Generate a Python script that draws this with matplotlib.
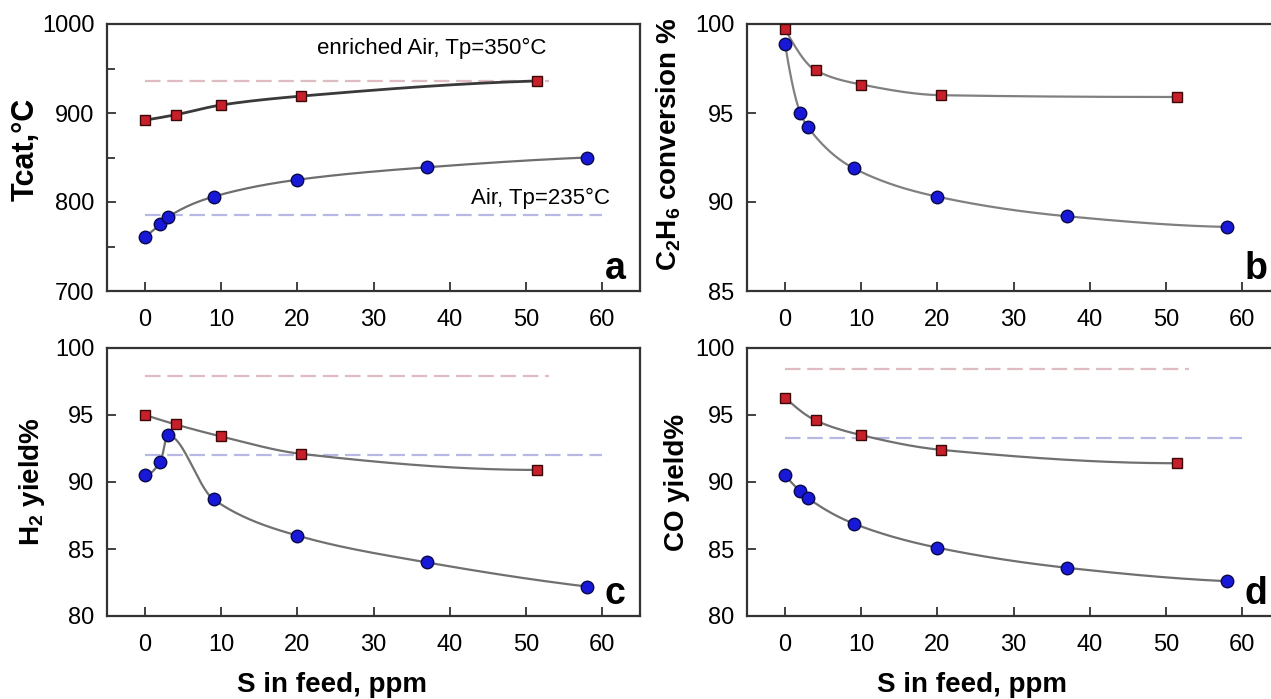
import numpy as np
import matplotlib
matplotlib.use("Agg")
import matplotlib.pyplot as plt
from matplotlib.ticker import MultipleLocator
from matplotlib.transforms import blended_transform_factory

plt.rcParams["font.family"] = ["Liberation Sans", "DejaVu Sans"]
plt.rcParams["mathtext.fontset"] = "custom"
plt.rcParams["mathtext.rm"] = "Liberation Sans"
plt.rcParams["mathtext.bf"] = "Liberation Sans:bold"

# S content in feed, ppm
s_air = [0, 2, 3, 9, 20, 37, 58]
s_enr = [0, 4, 10, 20.5, 51.5]

# a: catalyst temperature, °C
tcat_air = [761, 775, 783, 806, 825, 839, 850]
tcat_enr = [892, 898, 909, 919, 936]
tcat_eq_air = 785
tcat_eq_enr = 936

# b: C2H6 conversion, %
conv_air = [98.9, 95.0, 94.2, 91.9, 90.3, 89.2, 88.6]
conv_enr = [99.7, 97.4, 96.6, 96.0, 95.9]

# c: H2 yield, %
h2_air = [90.5, 91.5, 93.5, 88.7, 86.0, 84.0, 82.2]
h2_enr = [95.0, 94.3, 93.4, 92.1, 90.9]
h2_eq_air = 92.0
h2_eq_enr = 97.9

# d: CO yield, %
co_air = [90.5, 89.3, 88.8, 86.9, 85.1, 83.6, 82.6]
co_enr = [96.3, 94.6, 93.5, 92.4, 91.4]
co_eq_air = 93.3
co_eq_enr = 98.45

# equilibrium line extents, ppm
eq_span_air = (0, 60)
eq_span_enr = (0, 53)

x_ticks = [0, 10, 20, 30, 40, 50, 60]


def pchip(x, y, xs):
    """Monotone piecewise cubic Hermite curve through (x, y)."""
    x = np.asarray(x, float)
    y = np.asarray(y, float)
    h = np.diff(x)
    d = np.diff(y) / h
    n = len(x)
    m = np.zeros(n)
    for k in range(1, n - 1):
        if d[k - 1] * d[k] > 0:
            w1 = 2 * h[k] + h[k - 1]
            w2 = h[k] + 2 * h[k - 1]
            m[k] = (w1 + w2) / (w1 / d[k - 1] + w2 / d[k])

    def end(h0, h1, d0, d1):
        v = ((2 * h0 + h1) * d0 - h0 * d1) / (h0 + h1)
        if np.sign(v) != np.sign(d0):
            return 0.0
        if np.sign(d0) != np.sign(d1) and abs(v) > abs(3 * d0):
            return 3 * d0
        return v

    m[0] = end(h[0], h[1], d[0], d[1])
    m[-1] = end(h[-1], h[-2], d[-1], d[-2])
    idx = np.clip(np.searchsorted(x, xs) - 1, 0, n - 2)
    t = (xs - x[idx]) / h[idx]
    h00 = 2 * t**3 - 3 * t**2 + 1
    h10 = t**3 - 2 * t**2 + t
    h01 = -2 * t**3 + 3 * t**2
    h11 = t**3 - t**2
    return (h00 * y[idx] + h10 * h[idx] * m[idx]
            + h01 * y[idx + 1] + h11 * h[idx] * m[idx + 1])


W, H = 1271, 699
fig = plt.figure(figsize=(W / 100, H / 100), dpi=100)


def make_axes(left, top, bottom, width=533):
    return fig.add_axes([left / W, (H - bottom) / H, width / W, (bottom - top) / H])


ax_a = make_axes(107, 24, 291)
ax_b = make_axes(747, 24, 291)
ax_c = make_axes(107, 348, 616)
ax_d = make_axes(747, 348, 616)

RED_FACE, RED_EDGE = "#c8202a", "#3a0808"
BLUE_FACE, BLUE_EDGE = "#1818d8", "#08084a"
EQ_RED, EQ_BLUE = "#dfbcc2", "#b8b8e4"


def draw_series(ax, x, y, kind, line_color, lw):
    xs = np.linspace(x[0], x[-1], 400)
    ax.plot(xs, pchip(x, y, xs), color=line_color, lw=lw, zorder=2,
            solid_capstyle="round")
    if kind == "enr":
        ax.plot(x, y, ls="none", marker="s", ms=7.5, mfc=RED_FACE,
                mec=RED_EDGE, mew=1.0, zorder=3)
    else:
        ax.plot(x, y, ls="none", marker="o", ms=9, mfc=BLUE_FACE,
                mec=BLUE_EDGE, mew=1.0, zorder=3)


def draw_eq(ax, level, span, color):
    line, = ax.plot(span, [level, level], color=color, lw=1.6, zorder=1)
    line.set_dashes([7, 3])


def style(ax, ylim, ymajor, yminor, ylabel, label_x, label_y, letter,
          label_size=20):
    ax.set_xlim(-5, 65)
    ax.set_ylim(*ylim)
    ax.set_xticks(x_ticks)
    ax.yaxis.set_major_locator(MultipleLocator(ymajor))
    if yminor:
        ax.yaxis.set_minor_locator(MultipleLocator(yminor))
    ax.tick_params(axis="both", which="both", direction="in", width=1.3,
                   color="#333333", labelsize=17, top=False, right=False)
    ax.tick_params(axis="both", which="major", length=6.5)
    ax.tick_params(axis="both", which="minor", length=5.5)
    ax.tick_params(axis="x", pad=13)
    ax.tick_params(axis="y", pad=9)
    for sp in ax.spines.values():
        sp.set_linewidth(1.6)
        sp.set_color("#333333")
    ax.text(label_x, label_y, ylabel, rotation=90, ha="center", va="center",
            transform=ax.transAxes, fontsize=label_size, fontweight="bold")
    tr = blended_transform_factory(ax.transData, ax.transAxes)
    ax.text(60.4, 0.015, letter, transform=tr, ha="left", va="bottom",
            fontsize=27, fontweight="bold")


# a: catalyst temperature
draw_eq(ax_a, tcat_eq_enr, eq_span_enr, EQ_RED)
draw_eq(ax_a, tcat_eq_air, eq_span_air, EQ_BLUE)
draw_series(ax_a, s_enr, tcat_enr, "enr", "#3a3a3a", 2.0)
draw_series(ax_a, s_air, tcat_air, "air", "#6e6e6e", 1.6)
ax_a.text(22.6, 973, "enriched Air, Tp=350°C", fontsize=16, ha="left", va="center")
ax_a.text(61, 804, "Air, Tp=235°C", fontsize=16, ha="right", va="center")
style(ax_a, (700, 1000), 100, 50, "Tcat,°C", -0.152, 0.53, "a", label_size=22)

# b: ethane conversion
draw_series(ax_b, s_enr, conv_enr, "enr", "#808080", 1.6)
draw_series(ax_b, s_air, conv_air, "air", "#808080", 1.6)
style(ax_b, (85, 100), 5, None,
      r"C$_\mathbf{2}$H$_\mathbf{6}$ conversion %", -0.148, 0.55, "b")

# c: hydrogen yield
draw_eq(ax_c, h2_eq_enr, eq_span_enr, EQ_RED)
draw_eq(ax_c, h2_eq_air, eq_span_air, EQ_BLUE)
draw_series(ax_c, s_enr, h2_enr, "enr", "#707070", 1.6)
draw_series(ax_c, s_air, h2_air, "air", "#707070", 1.6)
style(ax_c, (80, 100), 5, None, r"H$_\mathbf{2}$ yield%", -0.141, 0.5, "c")

# d: carbon monoxide yield
draw_eq(ax_d, co_eq_enr, eq_span_enr, EQ_RED)
draw_eq(ax_d, co_eq_air, eq_span_air, EQ_BLUE)
draw_series(ax_d, s_enr, co_enr, "enr", "#707070", 1.6)
draw_series(ax_d, s_air, co_air, "air", "#707070", 1.6)
style(ax_d, (80, 100), 5, None, "CO yield%", -0.131, 0.5, "d")

for ax in (ax_c, ax_d):
    tr = blended_transform_factory(ax.transData, ax.transAxes)
    ax.text(24.5, -0.285, "S in feed, ppm", transform=tr, ha="center",
            va="baseline", fontsize=20, fontweight="bold")

fig.savefig("out.png", dpi=100)
